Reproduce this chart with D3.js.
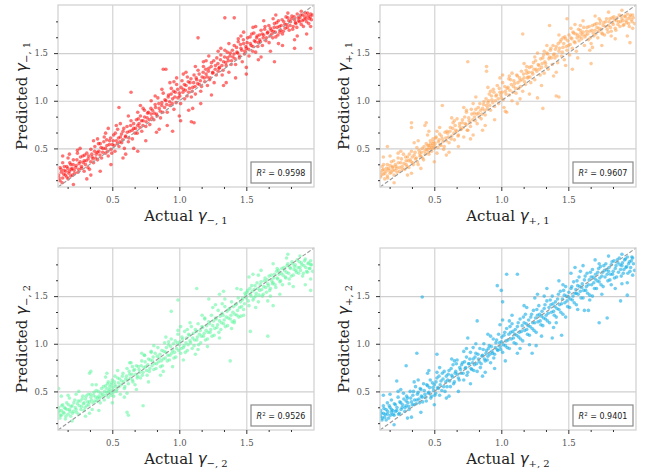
<!DOCTYPE html>
<html>
<head>
<meta charset="utf-8">
<script src="https://cdn.jsdelivr.net/npm/d3@7"></script>
<style>
  body { margin: 0; background: #fff; }
  svg { display: block; }
</style>
</head>
<body>
<div id="root"></div>
<script>
// shared axis values
const axisDomain = [0.095, 2.005];
const majorTicks = [0.5, 1.0, 1.5];
const minorTicks = [0.1667, 0.3333, 0.6667, 0.8333, 1.1667, 1.3333, 1.6667, 1.8333];
const subscripts = ["\u2212, 1", "+, 1", "\u2212, 2", "+, 2"];
const r2Scores = ["0.9598", "0.9607", "0.9526", "0.9401"];

// [actual, predicted]
const minus1Points = [
  [0.10,0.22],[0.11,0.16],[0.11,0.30],[0.12,0.25],[0.13,0.19],[0.13,0.35],[0.14,0.27],[0.15,0.22],[0.16,0.31],[0.17,0.18],[0.17,0.40],[0.18,0.26],[0.19,0.33],[0.19,0.21],
  [0.20,0.29],[0.21,0.38],[0.22,0.24],[0.23,0.32],[0.24,0.45],[0.25,0.28],[0.26,0.36],[0.27,0.31],[0.28,0.42],[0.29,0.26],[0.29,0.37],
  [0.30,0.33],[0.31,0.45],[0.32,0.39],[0.33,0.28],[0.34,0.49],[0.35,0.41],[0.36,0.35],[0.37,0.52],[0.38,0.44],[0.39,0.38],
  [0.40,0.47],[0.41,0.55],[0.42,0.40],[0.43,0.50],[0.44,0.62],[0.45,0.45],[0.46,0.53],[0.47,0.42],[0.48,0.58],[0.49,0.49],
  [0.50,0.54],[0.51,0.64],[0.52,0.47],[0.53,0.58],[0.54,0.70],[0.55,0.52],[0.56,0.62],[0.57,0.56],[0.58,0.68],[0.59,0.50],
  [0.60,0.63],[0.61,0.73],[0.62,0.57],[0.63,0.68],[0.64,0.79],[0.65,0.60],[0.66,0.71],[0.67,0.66],[0.68,0.80],[0.69,0.47],[0.69,0.74],
  [0.70,0.76],[0.71,0.84],[0.72,0.68],[0.73,0.79],[0.74,0.90],[0.75,0.73],[0.76,0.82],[0.77,0.88],[0.78,0.75],[0.79,0.86],
  [0.80,0.90],[0.81,0.80],[0.82,0.96],[0.83,0.86],[0.84,1.03],[0.85,0.92],[0.86,0.82],[0.87,0.98],[0.88,1.08],[0.89,0.93],
  [0.90,1.00],[0.91,0.88],[0.92,1.06],[0.93,0.95],[0.94,1.13],[0.95,1.02],[0.96,0.91],[0.97,1.09],[0.98,1.17],[0.99,1.03],
  [1.00,1.08],[1.01,0.97],[1.02,1.21],[1.03,1.12],[1.04,1.02],[1.05,1.16],[1.06,1.25],[1.07,1.09],[1.08,1.19],[1.09,1.04],
  [1.10,1.14],[1.11,1.27],[1.12,1.07],[1.13,1.22],[1.14,1.32],[1.15,1.17],[1.16,1.10],[1.17,1.25],[1.18,1.36],[1.19,1.20],
  [1.20,1.28],[1.21,1.16],[1.22,1.34],[1.23,1.24],[1.24,1.40],[1.25,1.30],[1.26,1.19],[1.27,1.37],[1.28,1.45],[1.29,1.31],
  [1.30,1.35],[1.31,1.48],[1.32,1.27],[1.33,1.41],[1.34,1.53],[1.35,1.37],[1.36,1.45],[1.37,1.30],[1.38,1.50],[1.39,1.42],
  [1.40,1.46],[1.41,1.58],[1.42,1.38],[1.43,1.51],[1.44,1.62],[1.45,1.47],[1.46,1.55],[1.47,1.41],[1.48,1.60],[1.49,1.52],
  [1.50,1.55],[1.51,1.66],[1.52,1.47],[1.53,1.60],[1.54,1.70],[1.55,1.57],[1.56,1.63],[1.57,1.51],[1.58,1.68],[1.59,1.61],
  [1.60,1.64],[1.61,1.74],[1.62,1.58],[1.63,1.69],[1.64,1.78],[1.65,1.66],[1.66,1.72],[1.67,1.61],[1.68,1.76],[1.69,1.70],
  [1.70,1.73],[1.71,1.81],[1.72,1.67],[1.73,1.77],[1.74,1.84],[1.75,1.72],[1.76,1.79],[1.77,1.70],[1.78,1.83],[1.79,1.76],
  [1.80,1.80],[1.81,1.87],[1.82,1.74],[1.83,1.83],[1.84,1.89],[1.85,1.78],[1.86,1.85],[1.87,1.81],[1.88,1.91],[1.89,1.84],
  [1.90,1.87],[1.91,1.80],[1.92,1.90],[1.93,1.85],[1.94,1.92],[1.95,1.83],[1.96,1.89],[1.97,1.86],[1.98,1.91],[1.98,1.78],
  [0.55,0.93],[0.64,1.09],[0.88,1.33],[0.90,1.33],[0.95,0.68],[1.01,0.79],[1.09,0.78],[1.11,0.77],[1.14,1.66],[1.34,1.87],
  [1.41,1.87],[1.50,1.28],[1.71,1.41],[1.86,1.55],[1.98,1.55],
  [0.104,0.19],[0.117,0.28],[0.126,0.14],[0.138,0.23],[0.142,0.31],[0.153,0.26],[0.161,0.20],[0.168,0.29],[0.176,0.24],[0.183,0.35],
  [0.194,0.28],[0.203,0.22],[0.208,0.33],[0.215,0.27],[0.227,0.30],[0.236,0.38],[0.244,0.25],[0.252,0.34],[0.263,0.41],[0.271,0.29],
  [0.283,0.35],[0.294,0.43],[0.305,0.37],[0.318,0.30],[0.324,0.42],[0.339,0.36],[0.347,0.44],[0.356,0.39],[0.368,0.47],[0.377,0.40],
  [0.389,0.46],[0.397,0.55],[0.408,0.43],[0.416,0.51],[0.428,0.46],[0.437,0.57],[0.449,0.50],[0.458,0.59],[0.466,0.47],[0.478,0.54],
  [0.487,0.61],[0.496,0.45],[0.507,0.58],[0.516,0.53],[0.523,0.66],[0.538,0.55],[0.546,0.61],[0.557,0.57],[0.569,0.65],[0.578,0.59],
  [0.586,0.71],[0.597,0.62],[0.612,0.67],[0.624,0.61],[0.637,0.74],[0.648,0.69],[0.659,0.76],[0.673,0.71],[0.686,0.66],[0.694,0.81],
  [0.707,0.72],[0.718,0.79],[0.729,0.74],[0.741,0.83],[0.753,0.78],[0.764,0.87],[0.777,0.80],[0.788,0.92],[0.796,0.82],[0.812,0.87],
  [0.823,0.93],[0.834,0.84],[0.847,0.97],[0.858,0.89],[0.869,0.95],[0.877,0.88],[0.893,1.01],[0.906,0.96],[0.917,1.04],[0.928,0.99],
  [0.939,1.07],[0.947,0.97],[0.958,1.10],[0.967,1.04],[0.976,0.98],[0.988,1.12],[1.004,1.05],[1.013,1.14],[1.027,1.09],[1.038,1.17],
  [1.046,1.11],[1.058,1.05],[1.067,1.20],[1.076,1.13],[1.087,1.23],[1.096,1.10],[1.107,1.19],[1.118,1.15],[1.126,1.24],[1.137,1.18],
  [1.148,1.28],[1.157,1.21],[1.166,1.15],[1.178,1.30],[1.186,1.24],[1.197,1.33],[1.208,1.25],[1.217,1.31],[1.226,1.22],[1.238,1.36],
  [1.249,1.29],[1.257,1.42],[1.268,1.33],[1.276,1.27],[1.288,1.39],[1.296,1.34],[1.307,1.43],[1.318,1.37],[1.327,1.32],[1.338,1.46],
  [1.347,1.40],[1.358,1.51],[1.366,1.42],[1.378,1.47],[1.387,1.38],[1.396,1.53],[1.408,1.49],[1.416,1.44],[1.427,1.56],[1.436,1.50],
  [1.448,1.45],[1.457,1.59],[1.466,1.53],[1.478,1.64],[1.486,1.49],[1.497,1.57],[1.506,1.61],[1.517,1.54],[1.528,1.67],[1.536,1.58],
  [1.547,1.52],[1.556,1.71],[1.568,1.62],[1.577,1.66],[1.586,1.57],[1.597,1.69],[1.606,1.62],[1.618,1.70],[1.626,1.66],[1.637,1.75],
  [1.646,1.63],[1.657,1.71],[1.668,1.79],[1.677,1.68],[1.686,1.74],[1.697,1.66],[1.708,1.77],[1.716,1.72],[1.727,1.82],[1.736,1.69],
  [1.747,1.78],[1.756,1.74],[1.767,1.85],[1.776,1.73],[1.787,1.80],[1.796,1.88],[1.806,1.77],[1.817,1.84],[1.826,1.79],[1.837,1.86],
  [1.846,1.75],[1.857,1.88],[1.866,1.82],[1.877,1.77],[1.886,1.87],[1.897,1.83],[1.906,1.90],[1.917,1.84],[1.926,1.78],[1.937,1.88],
  [1.946,1.86],[1.957,1.92],[1.966,1.81],[1.977,1.88],[1.986,1.85],[1.994,1.90]
];
const minus1Spread = [
  [0.13,0.42],[0.21,0.12],[0.26,0.50],[0.31,0.18],[0.36,0.58],[0.41,0.26],[0.45,0.66],[0.49,0.33],[0.53,0.74],[0.58,0.40],
  [0.62,0.84],[0.66,0.50],[0.71,0.95],[0.75,0.58],[0.79,1.00],[0.83,0.67],[0.87,1.12],[0.91,0.74],[0.96,1.20],[1.00,0.84],
  [1.03,1.28],[1.07,0.90],[1.12,1.36],[1.16,0.97],[1.20,1.42],[1.24,1.06],[1.29,1.52],[1.33,1.16],[1.37,1.60],[1.42,1.24],
  [1.46,1.68],[1.50,1.35],[1.55,1.77],[1.59,1.43],[1.63,1.84],[1.68,1.52],[1.72,1.90],[1.77,1.58],[1.81,1.92],[1.86,1.64],
  [1.91,1.94],[1.95,1.70],[0.18,0.44],[0.34,0.22],[0.47,0.71],[0.60,0.44],[0.73,0.92],[0.85,0.70],[0.98,1.24],[1.10,0.92],
  [1.22,1.47],[1.35,1.19],[1.48,1.72],[1.61,1.46],[1.74,1.60],[1.88,1.68],[0.24,0.48],[0.39,0.60],[0.56,0.76],[0.69,0.88],
  [0.82,1.05],[0.93,1.19],[1.05,1.30],[1.18,1.41],[1.31,1.55],[1.44,1.65],[1.57,1.78],[1.70,1.86]
];

const plus1Points = [
  [0.10,0.25],[0.10,0.20],[0.11,0.31],[0.12,0.23],[0.12,0.28],[0.13,0.18],[0.14,0.26],[0.15,0.33],[0.15,0.21],[0.16,0.29],[0.17,0.24],[0.18,0.36],[0.19,0.27],[0.19,0.31],
  [0.20,0.22],[0.21,0.33],[0.22,0.29],[0.23,0.40],[0.24,0.26],[0.25,0.35],[0.26,0.31],[0.27,0.44],[0.28,0.28],[0.29,0.37],[0.29,0.33],
  [0.30,0.41],[0.31,0.30],[0.32,0.38],[0.33,0.47],[0.34,0.35],[0.35,0.43],[0.36,0.39],[0.37,0.51],[0.38,0.33],[0.39,0.45],
  [0.40,0.42],[0.41,0.50],[0.42,0.38],[0.43,0.47],[0.44,0.55],[0.45,0.49],[0.46,0.53],[0.46,0.44],[0.47,0.58],[0.48,0.51],[0.48,0.47],[0.49,0.55],[0.49,0.60],
  [0.50,0.52],[0.51,0.61],[0.52,0.45],[0.53,0.57],[0.54,0.65],[0.55,0.53],[0.56,0.60],[0.57,0.49],[0.58,0.67],[0.59,0.58],
  [0.60,0.66],[0.61,0.56],[0.62,0.72],[0.63,0.63],[0.64,0.77],[0.65,0.59],[0.66,0.69],[0.67,0.81],[0.68,0.64],[0.69,0.73],
  [0.70,0.70],[0.71,0.80],[0.72,0.62],[0.73,0.76],[0.74,0.88],[0.75,0.69],[0.76,0.79],[0.77,0.73],[0.78,0.86],[0.79,0.64],
  [0.80,0.83],[0.81,0.91],[0.82,0.76],[0.83,0.87],[0.84,0.97],[0.85,0.81],[0.86,0.92],[0.87,0.99],[0.88,0.85],[0.89,0.95],
  [0.90,0.98],[0.91,1.07],[0.92,0.90],[0.93,1.01],[0.94,1.12],[0.95,0.94],[0.96,1.05],[0.97,1.16],[0.98,0.97],[0.99,1.09],
  [1.00,1.03],[1.01,1.19],[1.02,0.93],[1.03,1.10],[1.04,0.88],[1.05,1.14],[1.06,1.06],[1.07,1.22],[1.08,1.00],[1.09,1.15],
  [1.10,1.18],[1.11,1.08],[1.12,1.26],[1.13,1.13],[1.14,1.21],[1.15,1.31],[1.16,1.10],[1.17,1.24],[1.18,1.17],[1.19,1.29],
  [1.20,1.25],[1.21,1.35],[1.22,1.19],[1.23,1.30],[1.24,1.40],[1.25,1.22],[1.26,1.33],[1.27,1.03],[1.28,1.37],[1.29,1.27],
  [1.30,1.35],[1.31,1.45],[1.32,1.29],[1.33,1.39],[1.34,1.50],[1.35,1.33],[1.36,1.46],[1.37,1.55],[1.38,1.38],[1.39,1.48],
  [1.40,1.45],[1.41,1.57],[1.42,1.40],[1.43,1.52],[1.44,1.62],[1.45,1.47],[1.46,1.56],[1.47,1.43],[1.48,1.65],[1.49,1.53],
  [1.50,1.58],[1.51,1.48],[1.52,1.66],[1.53,1.55],[1.54,1.71],[1.55,1.61],[1.56,1.52],[1.57,1.69],[1.58,1.63],[1.59,1.74],
  [1.60,1.65],[1.61,1.72],[1.62,1.58],[1.63,1.69],[1.64,1.77],[1.65,1.64],[1.66,1.73],[1.67,1.60],[1.68,1.79],[1.69,1.68],
  [1.70,1.74],[1.71,1.81],[1.72,1.66],[1.73,1.76],[1.74,1.84],[1.75,1.71],[1.76,1.79],[1.77,1.69],[1.78,1.83],[1.79,1.75],
  [1.80,1.79],[1.81,1.86],[1.82,1.73],[1.83,1.82],[1.84,1.88],[1.85,1.76],[1.86,1.84],[1.87,1.80],[1.88,1.90],[1.89,1.83],
  [1.90,1.86],[1.91,1.79],[1.92,1.89],[1.93,1.84],[1.94,1.91],[1.95,1.81],[1.96,1.88],[1.97,1.85],[1.98,1.90],[1.98,1.76],
  [0.15,0.52],[0.33,0.72],[0.33,0.77],[0.43,0.74],[0.44,0.77],[0.56,0.95],[0.75,1.41],[0.89,1.36],[0.89,1.31],[1.16,1.70],
  [1.31,0.92],[1.36,1.79],[1.41,1.05],[1.43,1.04],[1.49,1.86],[1.53,1.33],[1.67,1.39],[1.96,1.61],
  [0.103,0.22],[0.114,0.27],[0.122,0.33],[0.131,0.24],[0.144,0.29],[0.152,0.19],[0.163,0.27],[0.171,0.32],[0.179,0.25],[0.188,0.30],
  [0.197,0.37],[0.206,0.27],[0.214,0.31],[0.223,0.25],[0.232,0.35],[0.241,0.30],[0.255,0.39],[0.262,0.28],[0.274,0.34],[0.286,0.41],
  [0.297,0.31],[0.306,0.37],[0.314,0.44],[0.327,0.36],[0.336,0.41],[0.344,0.33],[0.357,0.46],[0.365,0.40],[0.374,0.36],[0.386,0.48],
  [0.393,0.42],[0.405,0.46],[0.413,0.40],[0.424,0.52],[0.433,0.44],[0.441,0.49],[0.452,0.53],[0.457,0.46],[0.463,0.51],[0.471,0.55],
  [0.475,0.49],[0.484,0.53],[0.493,0.57],[0.498,0.50],[0.506,0.55],[0.514,0.62],[0.527,0.51],[0.536,0.59],[0.544,0.54],[0.553,0.63],
  [0.565,0.57],[0.574,0.52],[0.586,0.61],[0.594,0.68],[0.605,0.62],[0.617,0.68],[0.626,0.60],[0.638,0.71],[0.647,0.66],[0.656,0.74],
  [0.668,0.68],[0.677,0.63],[0.689,0.76],[0.697,0.70],[0.708,0.77],[0.716,0.72],[0.727,0.83],[0.738,0.75],[0.746,0.69],[0.757,0.82],
  [0.768,0.77],[0.776,0.91],[0.787,0.80],[0.798,0.87],[0.806,0.79],[0.817,0.86],[0.828,0.93],[0.836,0.83],[0.847,0.90],[0.856,0.86],
  [0.868,0.96],[0.877,0.90],[0.886,1.02],[0.897,0.92],[0.906,1.00],[0.914,0.95],[0.927,1.05],[0.936,0.98],[0.945,1.09],[0.956,1.00],
  [0.964,1.06],[0.977,1.02],[0.985,1.13],[0.996,1.06],[1.006,1.09],[1.014,1.01],[1.026,1.15],[1.035,1.07],[1.043,1.13],[1.056,1.23],
  [1.064,1.11],[1.075,1.17],[1.086,1.09],[1.094,1.21],[1.106,1.13],[1.115,1.27],[1.124,1.19],[1.136,1.24],[1.144,1.15],[1.155,1.22],
  [1.166,1.28],[1.174,1.20],[1.185,1.32],[1.196,1.24],[1.205,1.30],[1.214,1.25],[1.226,1.36],[1.235,1.28],[1.244,1.33],[1.256,1.42],
  [1.265,1.31],[1.276,1.38],[1.285,1.33],[1.294,1.44],[1.305,1.39],[1.316,1.48],[1.325,1.41],[1.334,1.36],[1.346,1.49],[1.355,1.44],
  [1.366,1.53],[1.374,1.45],[1.386,1.58],[1.395,1.49],[1.404,1.54],[1.416,1.47],[1.425,1.60],[1.434,1.55],[1.446,1.64],[1.455,1.51],
  [1.466,1.60],[1.474,1.67],[1.485,1.57],[1.496,1.63],[1.505,1.69],[1.514,1.59],[1.526,1.65],[1.535,1.72],[1.544,1.62],[1.556,1.70],
  [1.565,1.66],[1.576,1.75],[1.585,1.67],[1.594,1.71],[1.606,1.69],[1.615,1.77],[1.624,1.67],[1.636,1.73],[1.645,1.70],[1.656,1.78],
  [1.664,1.66],[1.676,1.74],[1.685,1.71],[1.696,1.80],[1.705,1.70],[1.714,1.77],[1.726,1.73],[1.735,1.81],[1.746,1.75],[1.755,1.70],
  [1.764,1.82],[1.776,1.78],[1.785,1.86],[1.796,1.72],[1.805,1.83],[1.814,1.77],[1.826,1.87],[1.835,1.80],[1.846,1.85],[1.855,1.74],
  [1.864,1.87],[1.876,1.83],[1.885,1.78],[1.894,1.89],[1.906,1.84],[1.915,1.80],[1.926,1.88],[1.935,1.82],[1.946,1.86],[1.955,1.78],
  [1.964,1.90],[1.976,1.83],[1.985,1.87],[1.994,1.81]
];
const plus1Spread = [
  [0.12,0.41],[0.20,0.14],[0.25,0.47],[0.30,0.22],[0.35,0.56],[0.40,0.29],[0.45,0.64],[0.50,0.36],[0.54,0.72],[0.59,0.43],
  [0.63,0.82],[0.68,0.52],[0.72,0.93],[0.77,0.60],[0.81,1.04],[0.86,0.69],[0.90,1.14],[0.95,0.80],[0.99,1.24],[1.03,0.89],
  [1.08,1.29],[1.12,0.97],[1.17,1.39],[1.21,1.07],[1.25,1.46],[1.30,1.16],[1.34,1.58],[1.39,1.26],[1.43,1.69],[1.48,1.37],
  [1.52,1.76],[1.57,1.45],[1.61,1.84],[1.66,1.53],[1.70,1.89],[1.75,1.58],[1.80,1.93],[1.85,1.65],[1.90,1.95],[1.94,1.68],
  [0.17,0.42],[0.33,0.24],[0.46,0.68],[0.61,0.46],[0.74,0.90],[0.88,0.74],[1.01,1.27],[1.14,1.02],[1.27,1.50],[1.41,1.30],
  [1.55,1.80],[1.68,1.56],[1.82,1.68],[0.23,0.45],[0.38,0.58],[0.52,0.68],[0.65,0.79],[0.79,0.97],[0.92,1.10],[1.06,1.26],
  [1.19,1.36],[1.32,1.52],[1.46,1.66],[1.59,1.79],[1.73,1.86]
];

const minus2Points = [
  [0.10,0.28],[0.10,0.33],[0.11,0.22],[0.12,0.30],[0.12,0.25],[0.13,0.36],[0.14,0.27],[0.15,0.21],[0.15,0.32],[0.16,0.38],[0.17,0.26],[0.18,0.31],[0.18,0.43],[0.19,0.24],
  [0.20,0.35],[0.21,0.29],[0.22,0.41],[0.23,0.31],[0.24,0.37],[0.25,0.26],[0.26,0.40],[0.27,0.34],[0.28,0.45],[0.29,0.30],[0.29,0.38],
  [0.30,0.42],[0.31,0.35],[0.32,0.47],[0.33,0.39],[0.34,0.44],[0.35,0.31],[0.36,0.46],[0.37,0.40],[0.38,0.51],[0.39,0.43],
  [0.40,0.45],[0.41,0.38],[0.42,0.53],[0.43,0.47],[0.44,0.41],[0.45,0.56],[0.46,0.49],[0.47,0.44],[0.47,0.60],[0.48,0.52],[0.49,0.46],[0.49,0.57],
  [0.50,0.51],[0.50,0.62],[0.51,0.45],[0.52,0.57],[0.53,0.50],[0.54,0.64],[0.55,0.55],[0.56,0.47],[0.57,0.61],[0.58,0.69],[0.59,0.53],
  [0.60,0.63],[0.61,0.74],[0.62,0.58],[0.63,0.68],[0.64,0.80],[0.65,0.62],[0.66,0.72],[0.67,0.57],[0.68,0.77],[0.69,0.66],
  [0.70,0.73],[0.71,0.64],[0.72,0.82],[0.73,0.70],[0.74,0.88],[0.75,0.76],[0.76,0.67],[0.77,0.84],[0.78,0.74],[0.79,0.91],
  [0.80,0.82],[0.81,0.73],[0.82,0.90],[0.83,0.79],[0.84,0.96],[0.85,0.85],[0.86,0.76],[0.87,0.93],[0.88,0.84],[0.89,1.01],
  [0.90,0.91],[0.91,0.82],[0.92,0.99],[0.93,0.88],[0.94,1.05],[0.95,0.93],[0.96,0.85],[0.97,1.03],[0.98,0.95],[0.99,1.10],
  [1.00,0.99],[1.01,0.90],[1.02,1.07],[1.03,0.96],[1.04,1.13],[1.05,1.01],[1.06,0.93],[1.07,1.10],[1.08,1.03],[1.09,1.18],
  [1.10,1.06],[1.11,0.98],[1.12,1.15],[1.13,1.04],[1.14,1.21],[1.15,1.10],[1.16,1.01],[1.17,1.18],[1.18,1.08],[1.19,1.26],
  [1.20,1.14],[1.21,1.05],[1.22,1.23],[1.23,1.12],[1.24,1.30],[1.25,1.19],[1.26,1.09],[1.27,1.27],[1.28,1.17],[1.29,1.35],
  [1.30,1.24],[1.31,1.15],[1.32,1.32],[1.33,1.21],[1.34,1.39],[1.35,1.28],[1.36,1.19],[1.37,1.36],[1.38,1.26],[1.39,1.44],
  [1.40,1.33],[1.41,1.24],[1.42,1.41],[1.43,1.30],[1.44,1.48],[1.45,1.38],[1.46,1.29],[1.47,1.46],[1.48,1.36],[1.49,1.53],
  [1.50,1.48],[1.51,1.56],[1.52,1.40],[1.53,1.52],[1.54,1.61],[1.55,1.46],[1.56,1.57],[1.57,1.50],[1.58,1.64],[1.59,1.44],
  [1.60,1.56],[1.61,1.65],[1.62,1.50],[1.63,1.60],[1.64,1.69],[1.65,1.54],[1.66,1.63],[1.67,1.71],[1.68,1.58],[1.69,1.66],
  [1.70,1.64],[1.71,1.73],[1.72,1.59],[1.73,1.69],[1.74,1.77],[1.75,1.65],[1.76,1.74],[1.77,1.62],[1.78,1.80],[1.79,1.70],
  [1.80,1.75],[1.81,1.84],[1.82,1.68],[1.83,1.79],[1.84,1.86],[1.85,1.72],[1.86,1.81],[1.87,1.77],[1.88,1.88],[1.89,1.74],
  [1.90,1.80],[1.91,1.85],[1.92,1.71],[1.93,1.82],[1.94,1.89],[1.95,1.76],[1.96,1.84],[1.97,1.79],[1.98,1.87],[1.98,1.68],
  [0.10,0.53],[0.33,0.69],[0.34,0.71],[0.61,0.28],[0.62,0.25],[0.73,0.35],[0.94,1.34],[0.99,1.46],[1.13,1.58],[1.38,0.82],
  [1.53,1.13],[1.66,1.08],[1.70,1.40],[1.81,1.94],[1.98,1.56],[1.98,1.83],[1.30,1.52],[1.33,1.55],[1.22,1.47],
  [0.104,0.30],[0.113,0.25],[0.123,0.35],[0.134,0.28],[0.143,0.33],[0.154,0.24],[0.162,0.31],[0.173,0.36],[0.184,0.29],[0.192,0.34],
  [0.203,0.27],[0.213,0.38],[0.224,0.33],[0.233,0.28],[0.245,0.40],[0.254,0.35],[0.266,0.31],[0.275,0.42],[0.284,0.37],[0.296,0.33],
  [0.305,0.45],[0.316,0.39],[0.324,0.36],[0.337,0.47],[0.345,0.41],[0.356,0.38],[0.364,0.49],[0.376,0.44],[0.385,0.40],[0.396,0.50],
  [0.405,0.43],[0.414,0.48],[0.426,0.45],[0.434,0.55],[0.443,0.50],[0.452,0.46],[0.458,0.53],[0.465,0.58],[0.473,0.50],[0.481,0.55],
  [0.487,0.48],[0.494,0.59],[0.503,0.54],[0.508,0.49],[0.516,0.60],[0.525,0.55],[0.534,0.52],[0.546,0.59],[0.555,0.63],[0.566,0.57],
  [0.575,0.66],[0.586,0.60],[0.594,0.55],[0.606,0.66],[0.615,0.62],[0.626,0.71],[0.635,0.64],[0.646,0.68],[0.654,0.60],[0.666,0.73],
  [0.675,0.68],[0.686,0.64],[0.694,0.76],[0.705,0.70],[0.716,0.77],[0.724,0.67],[0.736,0.75],[0.745,0.81],[0.756,0.72],[0.765,0.78],
  [0.776,0.71],[0.784,0.83],[0.796,0.77],[0.805,0.86],[0.814,0.79],[0.826,0.74],[0.835,0.87],[0.844,0.81],[0.856,0.89],[0.865,0.82],
  [0.874,0.77],[0.886,0.92],[0.895,0.85],[0.904,0.96],[0.915,0.88],[0.926,0.83],[0.935,0.97],[0.944,0.90],[0.956,1.00],[0.965,0.91],
  [0.974,0.86],[0.986,1.01],[0.995,0.93],[1.006,1.02],[1.015,0.95],[1.024,1.05],[1.036,0.98],[1.045,0.91],[1.054,1.06],[1.066,0.99],
  [1.075,1.09],[1.084,1.01],[1.096,0.95],[1.105,1.11],[1.114,1.04],[1.126,1.13],[1.135,1.07],[1.144,0.99],[1.156,1.14],[1.165,1.08],
  [1.174,1.17],[1.186,1.11],[1.195,1.04],[1.204,1.19],[1.215,1.12],[1.226,1.21],[1.235,1.15],[1.244,1.08],[1.256,1.24],[1.265,1.16],
  [1.274,1.26],[1.286,1.20],[1.295,1.12],[1.304,1.29],[1.315,1.22],[1.326,1.30],[1.335,1.25],[1.344,1.18],[1.356,1.34],[1.365,1.27],
  [1.374,1.37],[1.386,1.30],[1.395,1.23],[1.404,1.39],[1.415,1.31],[1.426,1.42],[1.435,1.35],[1.444,1.28],[1.456,1.44],[1.465,1.39],
  [1.474,1.48],[1.486,1.42],[1.495,1.51],[1.504,1.54],[1.515,1.45],[1.526,1.58],[1.535,1.50],[1.544,1.55],[1.556,1.48],[1.565,1.61],
  [1.574,1.53],[1.586,1.58],[1.595,1.51],[1.604,1.62],[1.615,1.57],[1.626,1.52],[1.635,1.66],[1.644,1.59],[1.656,1.67],[1.665,1.61],
  [1.674,1.56],[1.686,1.72],[1.695,1.63],[1.704,1.69],[1.715,1.62],[1.726,1.76],[1.735,1.68],[1.744,1.73],[1.756,1.66],[1.765,1.79],
  [1.774,1.72],[1.786,1.77],[1.795,1.69],[1.804,1.82],[1.815,1.74],[1.826,1.80],[1.835,1.71],[1.844,1.84],[1.856,1.78],[1.865,1.83],
  [1.874,1.75],[1.886,1.80],[1.895,1.86],[1.904,1.77],[1.915,1.83],[1.926,1.74],[1.935,1.87],[1.944,1.80],[1.956,1.75],[1.965,1.85],
  [1.974,1.79],[1.986,1.83],[1.995,1.76]
];
const minus2Spread = [
  [0.12,0.45],[0.20,0.19],[0.25,0.50],[0.30,0.24],[0.35,0.57],[0.40,0.30],[0.45,0.65],[0.50,0.38],[0.54,0.72],[0.59,0.44],
  [0.63,0.80],[0.68,0.52],[0.72,0.90],[0.77,0.60],[0.81,0.98],[0.86,0.67],[0.90,1.07],[0.95,0.76],[0.99,1.14],[1.03,0.83],
  [1.08,1.22],[1.12,0.89],[1.17,1.30],[1.21,0.97],[1.25,1.38],[1.30,1.06],[1.34,1.47],[1.39,1.16],[1.43,1.58],[1.48,1.30],
  [1.52,1.70],[1.57,1.38],[1.61,1.77],[1.66,1.45],[1.70,1.84],[1.75,1.52],[1.80,1.90],[1.85,1.60],[1.90,1.92],[1.94,1.62],
  [0.17,0.46],[0.33,0.27],[0.46,0.69],[0.61,0.48],[0.74,0.88],[0.88,0.71],[1.01,1.18],[1.14,0.94],[1.27,1.41],[1.41,1.22],
  [1.55,1.73],[1.68,1.50],[1.82,1.63],[0.23,0.47],[0.38,0.57],[0.52,0.66],[0.65,0.76],[0.79,0.92],[0.92,1.02],[1.06,1.15],
  [1.19,1.27],[1.32,1.42],[1.46,1.57],[1.59,1.72],[1.73,1.79]
];

const plus2Points = [
  [0.10,0.24],[0.10,0.30],[0.11,0.20],[0.12,0.27],[0.12,0.35],[0.13,0.23],[0.14,0.31],[0.15,0.26],[0.15,0.38],[0.16,0.22],[0.17,0.33],[0.18,0.28],[0.18,0.41],[0.19,0.30],
  [0.20,0.25],[0.21,0.36],[0.22,0.30],[0.23,0.44],[0.24,0.27],[0.25,0.38],[0.26,0.33],[0.27,0.48],[0.28,0.29],[0.29,0.40],[0.29,0.35],
  [0.30,0.43],[0.31,0.34],[0.32,0.50],[0.33,0.39],[0.34,0.46],[0.35,0.36],[0.36,0.55],[0.37,0.41],[0.38,0.49],[0.39,0.38],
  [0.40,0.52],[0.41,0.44],[0.42,0.58],[0.43,0.47],[0.44,0.40],[0.45,0.56],[0.46,0.49],[0.47,0.62],[0.48,0.45],[0.49,0.54],
  [0.50,0.57],[0.51,0.48],[0.52,0.64],[0.53,0.53],[0.54,0.46],[0.55,0.61],[0.56,0.69],[0.57,0.55],[0.58,0.50],[0.59,0.66],
  [0.60,0.62],[0.61,0.72],[0.62,0.55],[0.63,0.67],[0.64,0.78],[0.65,0.60],[0.66,0.71],[0.67,0.83],[0.68,0.64],[0.69,0.75],
  [0.70,0.69],[0.71,0.80],[0.72,0.62],[0.73,0.74],[0.74,0.86],[0.75,0.70],[0.76,0.79],[0.77,0.91],[0.78,0.73],[0.79,0.84],
  [0.80,0.78],[0.81,0.90],[0.82,0.71],[0.83,0.84],[0.84,0.95],[0.85,0.79],[0.86,0.88],[0.87,1.00],[0.88,0.82],[0.89,0.93],
  [0.90,0.87],[0.91,0.98],[0.92,0.80],[0.93,0.92],[0.94,1.05],[0.95,0.89],[0.96,1.01],[0.97,0.94],[0.98,1.10],[0.99,0.97],
  [1.00,1.02],[1.01,0.91],[1.02,1.09],[1.03,0.98],[1.04,1.16],[1.05,1.04],[1.06,0.95],[1.07,1.12],[1.08,1.21],[1.09,1.06],
  [1.10,1.10],[1.11,1.00],[1.12,1.18],[1.13,1.07],[1.14,1.26],[1.15,1.13],[1.16,1.03],[1.17,1.22],[1.18,1.31],[1.19,1.15],
  [1.20,1.19],[1.21,1.09],[1.22,1.28],[1.23,1.16],[1.24,1.35],[1.25,1.22],[1.26,1.12],[1.27,1.30],[1.28,1.40],[1.29,1.24],
  [1.30,1.29],[1.31,1.19],[1.32,1.37],[1.33,1.26],[1.34,1.45],[1.35,1.32],[1.36,1.22],[1.37,1.41],[1.38,1.50],[1.39,1.34],
  [1.40,1.39],[1.41,1.28],[1.42,1.47],[1.43,1.36],[1.44,1.55],[1.45,1.42],[1.46,1.31],[1.47,1.51],[1.48,1.60],[1.49,1.45],
  [1.50,1.49],[1.51,1.38],[1.52,1.58],[1.53,1.46],[1.54,1.65],[1.55,1.53],[1.56,1.41],[1.57,1.61],[1.58,1.70],[1.59,1.55],
  [1.60,1.59],[1.61,1.48],[1.62,1.67],[1.63,1.56],[1.64,1.74],[1.65,1.62],[1.66,1.51],[1.67,1.70],[1.68,1.78],[1.69,1.64],
  [1.70,1.68],[1.71,1.58],[1.72,1.75],[1.73,1.65],[1.74,1.81],[1.75,1.71],[1.76,1.60],[1.77,1.77],[1.78,1.84],[1.79,1.73],
  [1.80,1.76],[1.81,1.67],[1.82,1.83],[1.83,1.73],[1.84,1.87],[1.85,1.79],[1.86,1.70],[1.87,1.85],[1.88,1.90],[1.89,1.78],
  [1.90,1.82],[1.91,1.74],[1.92,1.88],[1.93,1.80],[1.94,1.91],[1.95,1.84],[1.96,1.76],[1.97,1.87],[1.98,1.90],[1.98,1.72],
  [0.22,0.61],[0.29,0.77],[0.37,0.90],[0.41,1.49],[0.52,0.89],[0.75,1.06],[0.82,1.24],[0.97,1.61],[1.00,1.56],[1.01,1.44],
  [1.04,1.73],[1.12,1.73],[1.23,0.90],[1.26,0.98],[1.38,1.06],[1.45,1.09],[1.56,1.53],[1.62,1.35],[1.65,1.35],[1.73,1.22],
  [1.79,1.27],[1.89,1.45],[1.90,1.63],[1.94,1.51],
  [0.103,0.27],[0.112,0.22],[0.124,0.32],[0.133,0.26],[0.141,0.20],[0.152,0.29],[0.164,0.35],[0.173,0.25],[0.181,0.31],[0.193,0.26],
  [0.202,0.37],[0.211,0.29],[0.222,0.33],[0.234,0.26],[0.243,0.39],[0.252,0.31],[0.264,0.36],[0.273,0.42],[0.282,0.33],[0.294,0.45],
  [0.303,0.38],[0.312,0.31],[0.324,0.43],[0.336,0.36],[0.345,0.50],[0.353,0.41],[0.365,0.37],[0.374,0.47],[0.386,0.42],[0.395,0.53],
  [0.404,0.45],[0.413,0.39],[0.425,0.51],[0.436,0.44],[0.444,0.57],[0.456,0.48],[0.465,0.54],[0.474,0.43],[0.486,0.59],[0.495,0.51],
  [0.504,0.46],[0.513,0.60],[0.526,0.54],[0.535,0.66],[0.544,0.57],[0.556,0.51],[0.565,0.63],[0.574,0.71],[0.586,0.60],[0.595,0.55],
  [0.604,0.68],[0.615,0.61],[0.626,0.74],[0.635,0.65],[0.644,0.58],[0.656,0.69],[0.665,0.79],[0.674,0.68],[0.686,0.62],[0.695,0.73],
  [0.704,0.78],[0.715,0.69],[0.726,0.81],[0.735,0.75],[0.744,0.67],[0.756,0.79],[0.765,0.84],[0.774,0.74],[0.786,0.80],[0.795,0.72],
  [0.804,0.86],[0.815,0.79],[0.826,0.89],[0.835,0.81],[0.844,0.75],[0.856,0.87],[0.865,0.94],[0.874,0.84],[0.886,0.90],[0.895,0.83],
  [0.904,0.95],[0.915,0.89],[0.926,0.97],[0.935,0.90],[0.944,0.85],[0.956,0.96],[0.965,1.04],[0.974,0.93],[0.986,1.01],[0.995,0.94],
  [1.004,1.07],[1.015,0.99],[1.026,1.12],[1.035,1.03],[1.044,0.96],[1.056,1.10],[1.065,1.18],[1.074,1.05],[1.086,1.13],[1.095,1.01],
  [1.104,1.15],[1.115,1.09],[1.126,1.22],[1.135,1.12],[1.144,1.05],[1.156,1.19],[1.165,1.28],[1.174,1.14],[1.186,1.21],[1.195,1.10],
  [1.204,1.25],[1.215,1.18],[1.226,1.31],[1.235,1.22],[1.244,1.14],[1.256,1.27],[1.265,1.36],[1.274,1.23],[1.286,1.31],[1.295,1.20],
  [1.304,1.34],[1.315,1.27],[1.326,1.41],[1.335,1.30],[1.344,1.24],[1.356,1.38],[1.365,1.46],[1.374,1.33],[1.386,1.42],[1.395,1.30],
  [1.404,1.44],[1.415,1.37],[1.426,1.52],[1.435,1.41],[1.444,1.33],[1.456,1.47],[1.465,1.56],[1.474,1.43],[1.486,1.50],[1.495,1.39],
  [1.504,1.54],[1.515,1.47],[1.526,1.60],[1.535,1.50],[1.544,1.43],[1.556,1.57],[1.565,1.66],[1.574,1.52],[1.586,1.60],[1.595,1.48],
  [1.604,1.63],[1.615,1.56],[1.626,1.71],[1.635,1.60],[1.644,1.53],[1.656,1.67],[1.665,1.75],[1.674,1.62],[1.686,1.70],[1.695,1.58],
  [1.704,1.73],[1.715,1.66],[1.726,1.79],[1.735,1.69],[1.744,1.62],[1.756,1.75],[1.765,1.82],[1.774,1.70],[1.786,1.78],[1.795,1.66],
  [1.804,1.80],[1.815,1.73],[1.826,1.86],[1.835,1.76],[1.844,1.69],[1.856,1.82],[1.865,1.88],[1.874,1.75],[1.886,1.83],[1.895,1.71],
  [1.904,1.85],[1.915,1.78],[1.926,1.89],[1.935,1.81],[1.944,1.74],[1.956,1.86],[1.965,1.80],[1.974,1.91],[1.986,1.84],[1.995,1.77]
];
const plus2Spread = [
  [0.12,0.46],[0.20,0.15],[0.25,0.52],[0.30,0.22],[0.35,0.60],[0.40,0.28],[0.45,0.69],[0.50,0.36],[0.54,0.75],[0.59,0.43],
  [0.63,0.84],[0.68,0.50],[0.72,0.92],[0.77,0.58],[0.81,1.00],[0.86,0.66],[0.90,1.10],[0.95,0.74],[0.99,1.20],[1.03,0.82],
  [1.08,1.30],[1.12,0.90],[1.17,1.40],[1.21,0.99],[1.25,1.48],[1.30,1.08],[1.34,1.58],[1.39,1.17],[1.43,1.66],[1.48,1.28],
  [1.52,1.74],[1.57,1.36],[1.61,1.82],[1.66,1.46],[1.70,1.88],[1.75,1.52],[1.80,1.92],[1.85,1.58],[1.90,1.94],[1.94,1.64],
  [0.17,0.47],[0.33,0.23],[0.46,0.72],[0.61,0.45],[0.74,0.95],[0.88,0.70],[1.01,1.25],[1.14,0.95],[1.27,1.52],[1.41,1.22],
  [1.55,1.80],[1.68,1.50],[1.82,1.62],[0.23,0.50],[0.38,0.62],[0.52,0.70],[0.65,0.82],[0.79,0.96],[0.92,1.08],[1.06,1.24],
  [1.19,1.38],[1.32,1.50],[1.46,1.62],[1.59,1.76],[1.73,1.84]
];

const panelPoints = [
  minus1Points.concat(minus1Spread),
  plus1Points.concat(plus1Spread),
  minus2Points.concat(minus2Spread),
  plus2Points.concat(plus2Spread)
];

// layout and style
const width = 662;
const height = 475;
const plotW = 256;
const plotH = 182;
const origins = [[58, 5], [380, 5], [58, 248], [380, 248]];
const colors = ["#ff0000", "#ffa04a", "#5cf59c", "#12ade6"];
const opacities = [0.55, 0.55, 0.55, 0.6];
const serif = "'DejaVu Serif', serif";
const sans = "'DejaVu Sans', sans-serif";

const svg = d3.select("#root").append("svg")
  .attr("width", width)
  .attr("height", height)
  .style("background", "#fff");

panelPoints.forEach((points, i) => {
  const [ox, oy] = origins[i];
  const x = d3.scaleLinear(axisDomain, [0, plotW]);
  const y = d3.scaleLinear(axisDomain, [plotH, 0]);

  const g = svg.append("g").attr("transform", `translate(${ox},${oy})`);

  g.append("clipPath").attr("id", `clip${i}`)
    .append("rect").attr("width", plotW).attr("height", plotH);

  // grid
  const gridX = g.append("g")
    .call(d3.axisBottom(x).tickValues(majorTicks).tickSize(plotH).tickFormat(""));
  const gridY = g.append("g")
    .attr("transform", `translate(${plotW},0)`)
    .call(d3.axisLeft(y).tickValues(majorTicks).tickSize(plotW).tickFormat(""));
  [gridX, gridY].forEach(a => {
    a.select(".domain").remove();
    a.selectAll("line").attr("stroke", "#cfcfcf").attr("stroke-width", 1.1);
  });

  // points
  g.append("g").attr("clip-path", `url(#clip${i})`)
    .selectAll("circle")
    .data(points)
    .join("circle")
    .attr("cx", d => x(d[0]))
    .attr("cy", d => y(d[1]))
    .attr("r", 1.8)
    .attr("fill", colors[i])
    .attr("fill-opacity", opacities[i]);

  // identity line
  g.append("line")
    .attr("x1", x(axisDomain[0])).attr("y1", y(axisDomain[0]))
    .attr("x2", x(axisDomain[1])).attr("y2", y(axisDomain[1]))
    .attr("stroke", "#999")
    .attr("stroke-width", 1.1)
    .attr("stroke-dasharray", "4,2");

  // frame
  g.append("rect")
    .attr("width", plotW).attr("height", plotH)
    .attr("fill", "none")
    .attr("stroke", "#d3d3d3")
    .attr("stroke-width", 1.3);

  // ticks
  const xMajor = g.append("g").attr("transform", `translate(0,${plotH})`)
    .call(d3.axisBottom(x).tickValues(majorTicks).tickSize(4).tickPadding(6).tickFormat(d3.format(".1f")));
  const xMinor = g.append("g").attr("transform", `translate(0,${plotH})`)
    .call(d3.axisBottom(x).tickValues(minorTicks).tickSize(2).tickFormat(""));
  const yMajor = g.append("g")
    .call(d3.axisLeft(y).tickValues(majorTicks).tickSize(4).tickPadding(6).tickFormat(d3.format(".1f")));
  const yMinor = g.append("g")
    .call(d3.axisLeft(y).tickValues(minorTicks).tickSize(2).tickFormat(""));
  [xMajor, xMinor, yMajor, yMinor].forEach(a => {
    a.select(".domain").remove();
    a.selectAll("line").attr("stroke", "#333").attr("stroke-width", 1);
    a.selectAll("text")
      .attr("fill", "#555")
      .style("font-family", serif)
      .style("font-size", "8.5px");
  });

  // axis titles
  const xl = g.append("text")
    .attr("x", plotW / 2)
    .attr("y", plotH + 33.5)
    .attr("text-anchor", "middle")
    .attr("fill", "#222")
    .style("font-family", serif)
    .style("font-size", "15px");
  xl.append("tspan").text("Actual ");
  xl.append("tspan").style("font-family", sans).style("font-style", "italic").text("\u03b3");
  xl.append("tspan").attr("dy", 3).style("font-size", "10px").text(subscripts[i]);

  const yl = g.append("text")
    .attr("transform", `translate(-31.5,${plotH / 2}) rotate(-90)`)
    .attr("text-anchor", "middle")
    .attr("fill", "#222")
    .style("font-family", serif)
    .style("font-size", "15px");
  yl.append("tspan").text("Predicted ");
  yl.append("tspan").style("font-family", sans).style("font-style", "italic").text("\u03b3");
  yl.append("tspan").attr("dy", 3).style("font-size", "10px").text(subscripts[i]);

  // R^2 box
  const bw = 60, bh = 21;
  const box = g.append("g").attr("transform", `translate(${plotW - 3 - bw},${plotH - 4 - bh})`);
  box.append("rect")
    .attr("width", bw).attr("height", bh)
    .attr("fill", "#fff")
    .attr("stroke", "#8a8a8a")
    .attr("stroke-width", 1.2);
  const rt = box.append("text")
    .attr("x", bw / 2)
    .attr("y", bh / 2 + 3)
    .attr("text-anchor", "middle")
    .attr("fill", "#222")
    .style("font-family", sans)
    .style("font-size", "8px");
  rt.append("tspan").style("font-style", "italic").text("R");
  rt.append("tspan").attr("dy", -3).style("font-size", "5.5px").text("2");
  rt.append("tspan").attr("dy", 3).text(` = ${r2Scores[i]}`);
});
</script>
</body>
</html>
